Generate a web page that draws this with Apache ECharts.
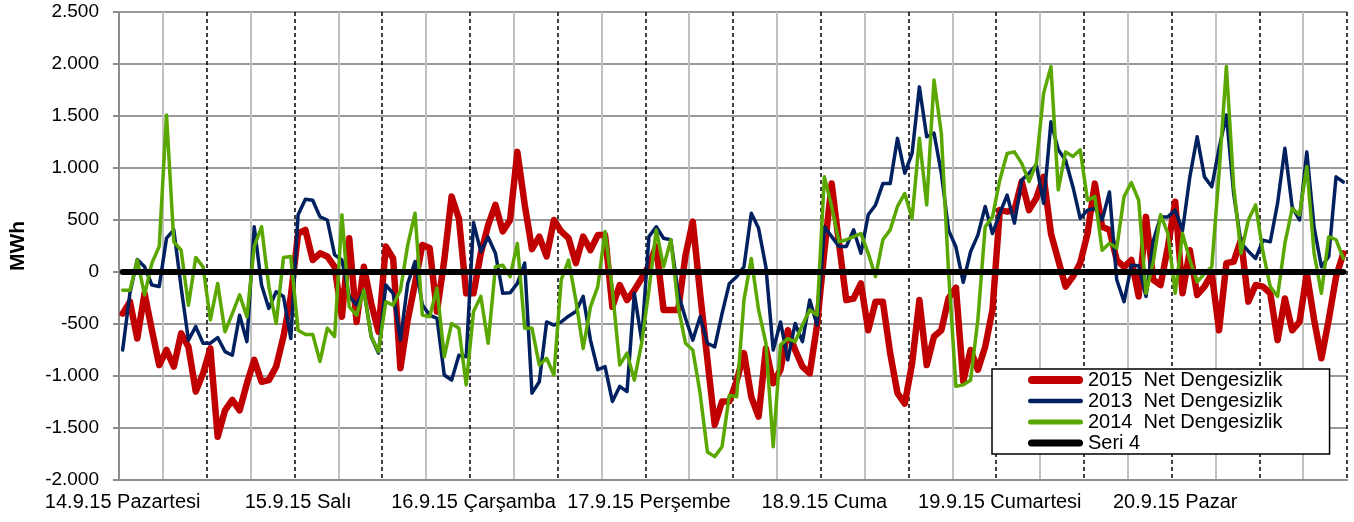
<!DOCTYPE html>
<html>
<head>
<meta charset="utf-8">
<script src="https://cdn.jsdelivr.net/npm/echarts@6/dist/echarts.min.js"></script>
<style>
  html, body { margin: 0; padding: 0; background: #fff; }
  #chart { width: 1354px; height: 522px; }
</style>
</head>
<body>
<div id="chart"></div>
<script>
// day labels on the x axis (one category per hour, 24 per day)
const days = ['14.9.15 Pazartesi', '15.9.15 Salı', '16.9.15 Çarşamba', '17.9.15 Perşembe',
  '18.9.15 Cuma', '19.9.15 Cumartesi', '20.9.15 Pazar']

const hours = []
days.forEach(d => {
  for (let h = 0; h < 24; h++) hours.push(d + ' ' + (h < 10 ? '0' + h : h) + ':00')
})

// 2015 Net Dengesizlik (MWh), one row per day
const net2015 = [
  -400, -285, -640, -205, -560, -895, -750, -910, -590, -720, -1150, -975, -735, -1585, -1330, -1230, -1330, -1070, -845, -1055, -1040, -910, -620, -240,
  370, 405, 115, 180, 150, 50, -430, 325, -480, 50, -300, -575, 245, 130, -925, -460, -110, 260, 230, -380, 115, 725, 515, -205,
  -205, 180, 450, 645, 390, 500, 1155, 650, 220, 340, 150, 500, 390, 325, 85, 340, 210, 355, 355, -335, -125, -270, -175, -60,
  60, 245, -365, -365, -365, 160, 485, -205, -845, -1470, -1245, -1245, -1050, -780, -1200, -1390, -735, -1070, -940, -560, -750, -910, -975, -510,
  200, 850, 275, -270, -255, -110, -560, -285, -285, -780, -1165, -1265, -880, -270, -895, -620, -560, -250, -150, -1050, -750, -940, -720, -365,
  595, 580, 595, 870, 595, 710, 915, 370, 115, -140, -45, 85, 370, 850, 435, 405, 115, 50, 115, -235, 530, -75, -125, 245,
  675, -205, 210, -220, -140, -15, -560, 85, 100, 310, -285, -125, -140, -205, -655, -255, -560, -480, -15, -460, -830, -460, -45, 180
]

// 2013 Net Dengesizlik
const net2013 = [
  -750, -200, 120, 50, -125, -140, 325, 405, -150, -655, -525, -685, -685, -630, -765, -800, -415, -670, 435, -125, -350, -190, -235, -640,
  550, 700, 690, 530, 500, 165, 115, -235, -315, -175, -620, -780, -125, -205, -655, -110, 100, -315, -415, -445, -990, -1040, -800, -815,
  475, 195, 335, 180, -205, -200, -110, 85, -1165, -1055, -480, -510, -480, -425, -380, -235, -655, -940, -910, -1245, -1100, -1150, -205, -655,
  340, 435, 325, 310, -205, -445, -655, -430, -685, -720, -400, -110, -45, 50, 565, 420, 50, -750, -480, -845, -495, -670, -270, -510,
  435, 340, 245, 245, 405, 180, 550, 645, 850, 850, 1285, 950, 1140, 1780, 1300, 1335, 950, 400, 240, -100, 195, 355, 630, 370,
  565, 740, 470, 885, 950, 1030, 660, 1445, 1175, 1075, 820, 515, 595, 610, 500, 770, -75, -285, 65, 60, -235, 300, 530, 530,
  595, 400, 915, 1300, 915, 820, 1190, 1510, 750, 280, 200, 130, 305, 290, 660, 1190, 625, 500, 1155, 430, 50, 150, 915, 865
]

// 2014 Net Dengesizlik
const net2014 = [
  -175, -175, 115, -220, 85, 245, 1510, 290, 210, -320, 140, 50, -460, -110, -575, -400, -220, -430, 245, 435, -140, -495, 140, 150,
  -560, -600, -600, -860, -540, -620, 550, -335, -415, -175, -620, -765, -285, -320, -175, 260, 565, -415, -430, -155, -815, -495, -540, -1085,
  -380, -235, -685, 50, 65, -45, 275, -540, -540, -895, -830, -990, -75, 115, -270, -735, -335, -140, 390, -175, -895, -780, -1040, -685,
  -175, 405, 50, 310, -335, -685, -750, -1165, -1730, -1775, -1680, -1185, -1200, -270, 130, -365, -685, -1680, -700, -640, -670, -510, -365, -415,
  915, 630, 290, 310, 340, 370, 180, -45, 310, 405, 630, 755, 515, 1285, 645, 1845, 1335, -15, -1100, -1085, -1040, -460, 435, 530,
  885, 1140, 1155, 1045, 870, 1045, 1720, 1975, 790, 1155, 1110, 1175, 690, 725, 210, 275, 230, 725, 860, 690, -205, 100, 550, 370,
  -205, 370, 115, -95, -15, 50, 950, 1975, 820, 180, 500, 645, 195, -140, -235, 275, 610, 550, 1015, 180, -205, 340, 310, 130
]

// Seri 4: the zero line
const seri4 = [
  0, 0, 0, 0, 0, 0, 0, 0, 0, 0, 0, 0, 0, 0, 0, 0, 0, 0, 0, 0, 0, 0, 0, 0,
  0, 0, 0, 0, 0, 0, 0, 0, 0, 0, 0, 0, 0, 0, 0, 0, 0, 0, 0, 0, 0, 0, 0, 0,
  0, 0, 0, 0, 0, 0, 0, 0, 0, 0, 0, 0, 0, 0, 0, 0, 0, 0, 0, 0, 0, 0, 0, 0,
  0, 0, 0, 0, 0, 0, 0, 0, 0, 0, 0, 0, 0, 0, 0, 0, 0, 0, 0, 0, 0, 0, 0, 0,
  0, 0, 0, 0, 0, 0, 0, 0, 0, 0, 0, 0, 0, 0, 0, 0, 0, 0, 0, 0, 0, 0, 0, 0,
  0, 0, 0, 0, 0, 0, 0, 0, 0, 0, 0, 0, 0, 0, 0, 0, 0, 0, 0, 0, 0, 0, 0, 0,
  0, 0, 0, 0, 0, 0, 0, 0, 0, 0, 0, 0, 0, 0, 0, 0, 0, 0, 0, 0, 0, 0, 0, 0
]

const font = 'Liberation Sans, Arial, sans-serif'

function thousands(v) {
  const s = String(Math.abs(v)).replace(/\B(?=(\d{3})+(?!\d))/g, '.')
  return (v < 0 ? '-' : '') + s
}

// legend icon: a thick line with round ends, h = thickness
function bar(h) {
  const r = h / 2
  return 'path://M' + r + ',0 L' + (55 - r) + ',0 A' + r + ',' + r + ' 0 0 1 ' + (55 - r) + ',' + h +
    ' L' + r + ',' + h + ' A' + r + ',' + r + ' 0 0 1 ' + r + ',0 Z'
}

function lineSeries(name, data, color, width) {
  return {
    name: name,
    type: 'line',
    data: data,
    symbol: 'none',
    showSymbol: false,
    lineStyle: { color: color, width: width, cap: 'round', join: 'round' },
    itemStyle: { color: color },
    emphasis: { disabled: true }
  }
}

const chart = echarts.init(document.getElementById('chart'))

chart.setOption({
  animation: false,
  grid: { left: 115, right: 7, top: 12, bottom: 42 },
  legend: {
    orient: 'vertical',
    left: 992,
    top: 369,
    padding: [1, 47, 1, 36],
    itemGap: 1,
    itemWidth: 55,
    itemHeight: 14,
    symbolKeepAspect: true,
    backgroundColor: '#fff',
    borderColor: '#000',
    borderWidth: 1.5,
    borderRadius: 0,
    textStyle: { fontFamily: font, fontSize: 20, color: '#000', lineHeight: 20 },
    data: [
      { name: '2015  Net Dengesizlik', icon: bar(8) },
      { name: '2013  Net Dengesizlik', icon: bar(4.5) },
      { name: '2014  Net Dengesizlik', icon: bar(5) },
      { name: 'Seri 4', icon: bar(7) }
    ]
  },
  xAxis: [{
    type: 'category',
    data: hours,
    boundaryGap: true,
    axisLine: { onZero: false, lineStyle: { color: '#8c8c8c', width: 2 } },
    axisTick: { show: false },
    axisLabel: {
      interval: 23,
      margin: 12,
      color: '#000',
      fontFamily: font,
      fontSize: 20,
      formatter: (v, i) => (i % 24 === 0 ? days[i / 24] : '')
    },
    splitLine: {
      show: true,
      interval: 5,
      lineStyle: { color: ['rgba(0,0,0,0)', '#c0c0c0'], width: 2 }
    }
  }, {
    // second axis only for the dashed 12-hour lines
    type: 'category',
    data: hours,
    boundaryGap: true,
    position: 'bottom',
    axisLine: { show: false },
    axisTick: { show: false },
    axisLabel: { show: false },
    splitLine: {
      show: true,
      interval: 11,
      showMinLine: false,
      lineStyle: { color: '#000', width: 1.5, type: [4, 3] }
    }
  }],
  yAxis: {
    type: 'value',
    min: -2000,
    max: 2500,
    interval: 500,
    name: 'MWh',
    nameLocation: 'middle',
    nameGap: 90,
    nameTextStyle: { fontFamily: font, fontSize: 21, fontWeight: 'bold', color: '#000' },
    axisLine: { show: true, lineStyle: { color: '#8c8c8c', width: 2 } },
    axisTick: { show: true, length: 6, lineStyle: { color: '#8c8c8c', width: 2 } },
    axisLabel: { margin: 20, color: '#000', fontFamily: font, fontSize: 19, formatter: thousands },
    splitLine: { lineStyle: { color: '#999999', width: 2 } }
  },
  series: [
    lineSeries('2015  Net Dengesizlik', net2015, '#C00000', 6.5),
    lineSeries('2013  Net Dengesizlik', net2013, '#002060', 3.5),
    lineSeries('2014  Net Dengesizlik', net2014, '#5AA700', 3.5),
    lineSeries('Seri 4', seri4, '#000000', 6)
  ]
})
</script>
</body>
</html>
